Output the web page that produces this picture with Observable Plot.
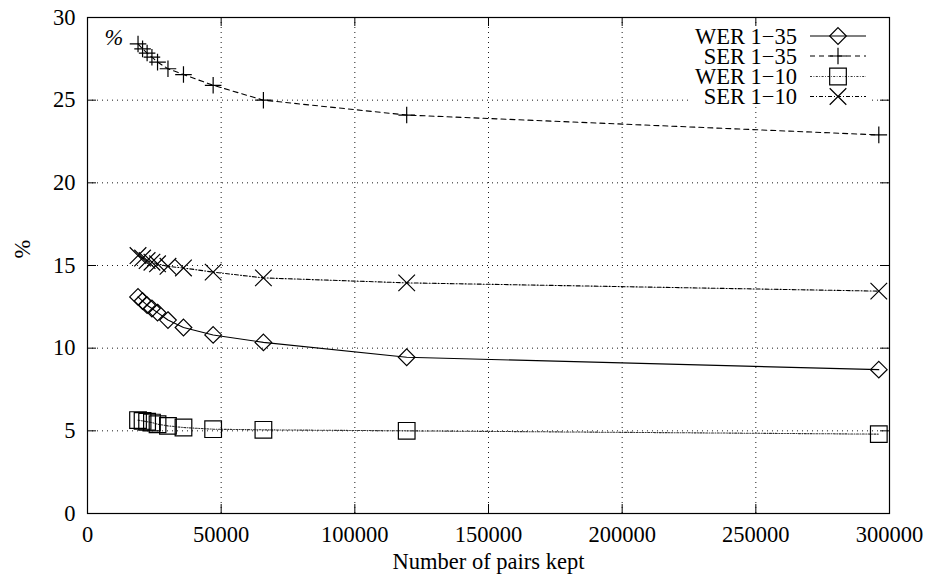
<!DOCTYPE html>
<html><head><meta charset="utf-8">
<script src="https://cdn.jsdelivr.net/npm/d3@7"></script>
<script src="https://cdn.jsdelivr.net/npm/@observablehq/plot@0.6"></script>
<style>
html,body{margin:0;padding:0;background:#fff;}
#chart{width:928px;height:574px;}
</style></head><body><div id="chart"></div>
<script>
// ---- data ----
const pairsKept = [18900, 20600, 22300, 24100, 26200, 30100, 35900, 47000, 65800, 119400, 296000];
const wer135 = [13.1, 12.85, 12.6, 12.4, 12.15, 11.7, 11.25, 10.8, 10.35, 9.45, 8.7];
const ser135 = [28.4, 28.1, 27.85, 27.6, 27.3, 26.9, 26.55, 25.9, 25.0, 24.1, 22.9];
const wer110 = [5.65, 5.6, 5.55, 5.5, 5.4, 5.3, 5.2, 5.1, 5.06, 5.0, 4.8];
const ser110 = [15.6, 15.45, 15.3, 15.2, 15.1, 14.95, 14.85, 14.6, 14.25, 13.95, 13.45];
const seriesNames = ["WER 1−35", "SER 1−35", "WER 1−10", "SER 1−10"];
const xTicks = [0, 50000, 100000, 150000, 200000, 250000, 300000];
const yTicks = [0, 5, 10, 15, 20, 25, 30];
const xLabel = "Number of pairs kept";
const yLabel = "%";

// ---- styles ----
const seriesStyle = [
  {symbol: "diamond2", r: 7.5, dash: null, stroke: "#000"},
  {symbol: "plus", r: 5.4, dash: "5,4", stroke: "#000"},
  {symbol: "square2", r: 10.6, dash: "2,1.5,0.8,1.5", stroke: "#333"},
  {symbol: "times", r: 7.6, dash: "4,2,1,2", stroke: "#000"}
];
const d3Symbols = {diamond2: d3.symbolDiamond2, plus: d3.symbolPlus, square2: d3.symbolSquare2, times: d3.symbolTimes};

const W = 928, H = 574, mL = 87, mR = 39, mT = 17, mB = 61;
const innerH = H - mT - mB, innerW = W - mL - mR;
const FONT = "'Liberation Serif', 'Times New Roman', Times, serif";
const FS = 22.5;

const valuesBySeries = [wer135, ser135, wer110, ser110];
const rows = seriesNames.flatMap((s, i) => pairsKept.map((x, j) => ({series: s, x, y: valuesBySeries[i][j]})));

const innerX = xTicks.slice(1, -1), innerY = yTicks.slice(1, -1);
const gridStyle = {stroke: "#000", strokeOpacity: 0.9, strokeDasharray: "1,4", strokeWidth: 1};

const marks = [
  Plot.gridX(innerX, gridStyle),
  Plot.gridY(innerY, gridStyle),
  // inward tick marks on all four sides
  Plot.ruleX(innerX, {x: d => d, insetTop: innerH - 9, stroke: "#000"}),
  Plot.ruleX(innerX, {x: d => d, insetBottom: innerH - 9, stroke: "#000"}),
  Plot.ruleY(innerY, {y: d => d, insetRight: innerW - 9, stroke: "#000"}),
  Plot.ruleY(innerY, {y: d => d, insetLeft: innerW - 9, stroke: "#000"}),
  Plot.axisX(xTicks, {tickSize: 0, tickPadding: 13, tickFormat: d3.format("d"), fontSize: FS, fontFamily: FONT, label: null}),
  Plot.axisY(yTicks, {tickSize: 0, tickPadding: 12, tickFormat: d3.format("d"), fontSize: FS, fontFamily: FONT, label: null}),
  Plot.text([xLabel], {text: d => d, frameAnchor: "bottom", dy: 48, lineAnchor: "middle", fontSize: FS, fontFamily: FONT}),
  Plot.text([yLabel], {text: d => d, frameAnchor: "left", dx: -65, dy: -7, rotate: -90, fontSize: FS, fontFamily: FONT}),
  Plot.text([yLabel], {text: d => d, frameAnchor: "top-left", dx: 17, dy: 20, lineAnchor: "middle", fontSize: FS, fontFamily: FONT, fontStyle: "italic"}),
  ...seriesNames.map((s, i) => Plot.line(rows.filter(d => d.series === s), {
    x: "x", y: "y", stroke: seriesStyle[i].stroke, strokeWidth: 1.1,
    strokeDasharray: seriesStyle[i].dash
  })),
  ...seriesNames.map((s, i) => Plot.dot(rows.filter(d => d.series === s), {
    x: "x", y: "y", symbol: seriesStyle[i].symbol, r: seriesStyle[i].r,
    stroke: "#000", strokeWidth: 1.2, fill: "none"
  })),
  Plot.frame({stroke: "#000", strokeWidth: 1.2})
];

const svg = Plot.plot({
  width: W, height: H,
  marginLeft: mL, marginRight: mR, marginTop: mT, marginBottom: mB,
  style: {fontFamily: FONT, fontSize: FS + "px", background: "#fff", color: "#000"},
  x: {domain: [xTicks[0], xTicks[xTicks.length - 1]]},
  y: {domain: [yTicks[0], yTicks[yTicks.length - 1]]},
  marks
});

// ---- legend (gnuplot style, top-right) ----
const lg = d3.select(svg).append("g").attr("font-family", FONT).attr("font-size", FS);
lg.append("rect").attr("x", 692).attr("y", 27).attr("width", 180).attr("height", 77).attr("fill", "#fff");
const rowY = [36, 56, 76.5, 96.5];
seriesNames.forEach((s, i) => {
  const y = rowY[i], st = seriesStyle[i];
  lg.append("text").attr("x", 797).attr("y", y).attr("dy", "0.34em").attr("text-anchor", "end").attr("fill", "#000").text(s);
  lg.append("line").attr("x1", 810).attr("x2", 866).attr("y1", y).attr("y2", y)
    .attr("stroke", st.stroke).attr("stroke-width", 1.1).attr("stroke-dasharray", st.dash);
  lg.append("path").attr("transform", `translate(838,${y})`)
    .attr("d", d3.symbol(d3Symbols[st.symbol], st.r * st.r * Math.PI)())
    .attr("fill", "none").attr("stroke", "#000").attr("stroke-width", 1.2);
});

document.getElementById("chart").append(svg);
</script>
</body></html>
